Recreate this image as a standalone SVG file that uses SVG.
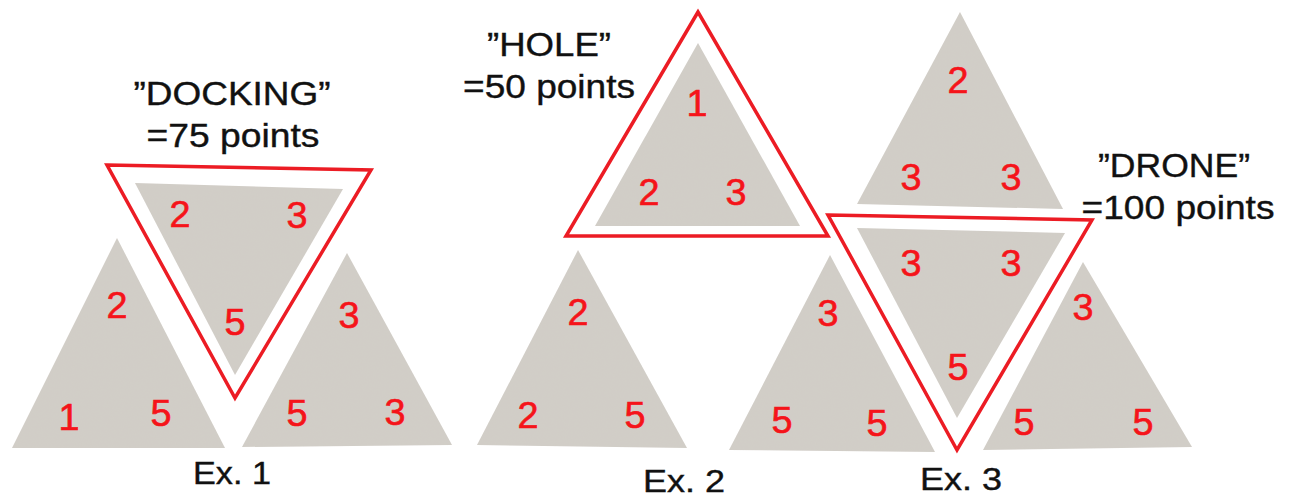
<svg xmlns="http://www.w3.org/2000/svg" width="1292" height="497" viewBox="0 0 1292 497">
  <style>
    .tile { fill: #d1cec8; filter: url(#paper); }
    .outline { fill: none; stroke: #ec1c24; stroke-width: 3.5; stroke-linejoin: miter; }
    .num { font-family: "Liberation Sans", Arial, sans-serif; font-size: 36px; fill: #f5141a; stroke: #f5141a; stroke-width: 0.6; text-anchor: middle; }
    .lbl { font-family: "Liberation Sans", Arial, sans-serif; font-size: 34px; fill: #111111; stroke: #111111; stroke-width: 0.4; text-anchor: middle; }
    .cap { font-family: "Liberation Sans", Arial, sans-serif; font-size: 32px; fill: #111111; stroke: #111111; stroke-width: 0.4; text-anchor: middle; }
  </style>
  <defs>
    <filter id="paper" x="0" y="0" width="100%" height="100%">
      <feTurbulence type="fractalNoise" baseFrequency="0.8" numOctaves="2" seed="3" result="noise"/>
      <feColorMatrix in="noise" type="matrix" values="0 0 0 0 0.66  0 0 0 0 0.6  0 0 0 0 0.48  0 0 0 0.1 0" result="tint"/>
      <feComposite in="tint" in2="SourceGraphic" operator="in" result="tintIn"/>
      <feMerge><feMergeNode in="SourceGraphic"/><feMergeNode in="tintIn"/></feMerge>
    </filter>
  </defs>
  <rect width="1292" height="497" fill="#ffffff"/>

  <!-- Example 1: DOCKING -->
  <g id="ex1-label">
    <text class="lbl" x="232" y="105" textLength="197" lengthAdjust="spacingAndGlyphs">”DOCKING”</text>
    <text class="lbl" x="233" y="147" textLength="173" lengthAdjust="spacingAndGlyphs">=75 points</text>
  </g>
  <g id="ex1-left">
    <polygon class="tile" points="117,238 12,448 225,448"/>
    <text class="num" transform="translate(117,318) scale(1.05,1)">2</text>
    <text class="num" transform="translate(69,430) scale(1.05,1)">1</text>
    <text class="num" transform="translate(161,426) scale(1.05,1)">5</text>
  </g>
  <g id="ex1-center">
    <polygon class="tile" points="135,183 343,189 235,375"/>
    <text class="num" transform="translate(180,227) scale(1.05,1)">2</text>
    <text class="num" transform="translate(297,228) scale(1.05,1)">3</text>
    <text class="num" transform="translate(235,335) scale(1.05,1)">5</text>
  </g>
  <g id="ex1-outline">
    <polygon class="outline" points="107,165 371,170 235,398"/>
  </g>
  <g id="ex1-right">
    <polygon class="tile" points="347,253 242,447 452,445"/>
    <text class="num" transform="translate(349,328) scale(1.05,1)">3</text>
    <text class="num" transform="translate(297,426) scale(1.05,1)">5</text>
    <text class="num" transform="translate(395,425) scale(1.05,1)">3</text>
  </g>
  <g id="ex1-caption">
    <text class="cap" x="232" y="484" textLength="78" lengthAdjust="spacingAndGlyphs">Ex. 1</text>
  </g>

  <!-- Example 2: HOLE -->
  <g id="ex2-label">
    <text class="lbl" x="549" y="56" textLength="124" lengthAdjust="spacingAndGlyphs">”HOLE”</text>
    <text class="lbl" x="549" y="98" textLength="172" lengthAdjust="spacingAndGlyphs">=50 points</text>
  </g>
  <g id="ex2-outline">
    <polygon class="outline" points="698,12 566,236 828,236"/>
  </g>
  <g id="ex2-top">
    <polygon class="tile" points="698,43 595,226 800,226"/>
    <text class="num" transform="translate(697,116) scale(1.05,1)">1</text>
    <text class="num" transform="translate(649,205) scale(1.05,1)">2</text>
    <text class="num" transform="translate(736,205) scale(1.05,1)">3</text>
  </g>
  <g id="ex2-bottom">
    <polygon class="tile" points="578,250 477,445 687,448"/>
    <text class="num" transform="translate(578,325) scale(1.05,1)">2</text>
    <text class="num" transform="translate(528,428) scale(1.05,1)">2</text>
    <text class="num" transform="translate(635,428) scale(1.05,1)">5</text>
  </g>
  <g id="ex2-caption">
    <text class="cap" x="684" y="492" textLength="82" lengthAdjust="spacingAndGlyphs">Ex. 2</text>
  </g>

  <!-- Example 3: DRONE -->
  <g id="ex3-label">
    <text class="lbl" x="1174" y="177" textLength="152" lengthAdjust="spacingAndGlyphs">”DRONE”</text>
    <text class="lbl" x="1178" y="219" textLength="193" lengthAdjust="spacingAndGlyphs">=100 points</text>
  </g>
  <g id="ex3-top">
    <polygon class="tile" points="960,12 857,204 1063,209"/>
    <text class="num" transform="translate(958,93) scale(1.05,1)">2</text>
    <text class="num" transform="translate(911,190) scale(1.05,1)">3</text>
    <text class="num" transform="translate(1011,190) scale(1.05,1)">3</text>
  </g>
  <g id="ex3-center">
    <polygon class="tile" points="857,228 1065,233 957,418"/>
    <text class="num" transform="translate(911,276) scale(1.05,1)">3</text>
    <text class="num" transform="translate(1011,276) scale(1.05,1)">3</text>
    <text class="num" transform="translate(958,380) scale(1.05,1)">5</text>
  </g>
  <g id="ex3-outline">
    <polygon class="outline" points="828,215 1092,220 957,450"/>
  </g>
  <g id="ex3-left">
    <polygon class="tile" points="830,255 729,450 935,452"/>
    <text class="num" transform="translate(828,326) scale(1.05,1)">3</text>
    <text class="num" transform="translate(782,433) scale(1.05,1)">5</text>
    <text class="num" transform="translate(877,436) scale(1.05,1)">5</text>
  </g>
  <g id="ex3-right">
    <polygon class="tile" points="1083,262 983,450 1192,447"/>
    <text class="num" transform="translate(1083,320) scale(1.05,1)">3</text>
    <text class="num" transform="translate(1024,435) scale(1.05,1)">5</text>
    <text class="num" transform="translate(1143,435) scale(1.05,1)">5</text>
  </g>
  <g id="ex3-caption">
    <text class="cap" x="961" y="490" textLength="82" lengthAdjust="spacingAndGlyphs">Ex. 3</text>
  </g>
</svg>
